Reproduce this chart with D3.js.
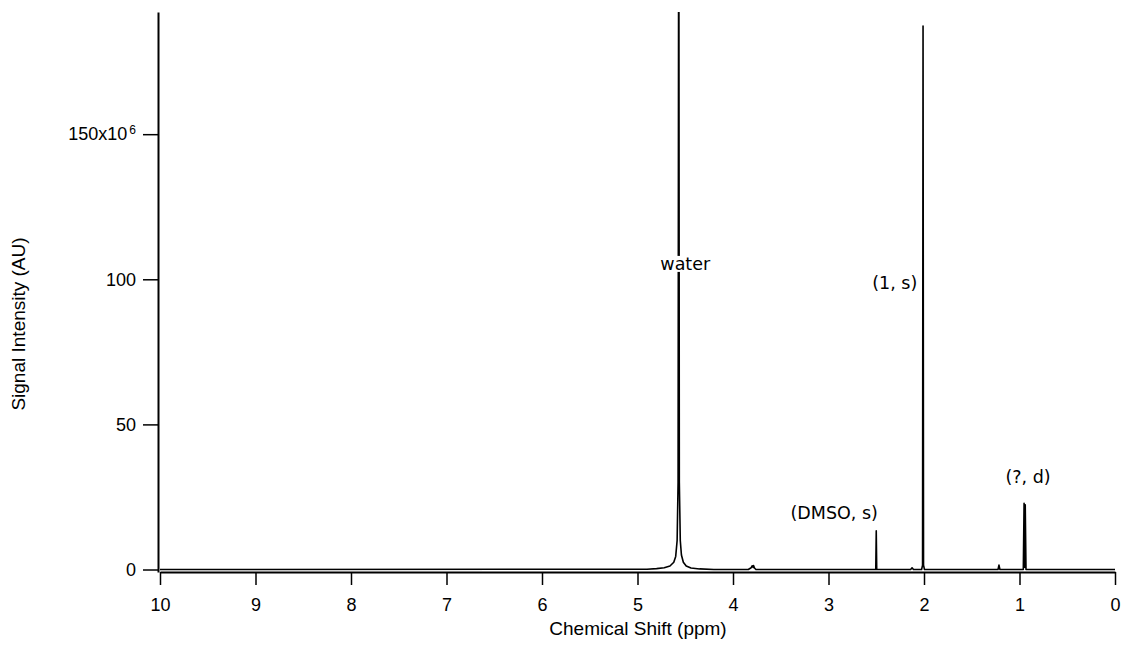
<!DOCTYPE html>
<html lang="en">

<head>
    <meta charset="UTF-8" />
    <title>1H NMR spectrum</title>
    <style>
        body {
            margin: 0;
            background: #fff;
        }

        svg {
            display: block;
        }

        .axis text {
            font-family: "Liberation Sans", Arial, sans-serif;
            font-size: 18px;
            fill: #000;
        }

        .axis path,
        .axis line {
            stroke: #000;
        }

        .title {
            font-family: "Liberation Sans", Arial, sans-serif;
            font-size: 19px;
            fill: #000;
        }

        .peak-label {
            font-family: "DejaVu Sans", Verdana, sans-serif;
            font-size: 17.5px;
            fill: #000;
        }
    </style>
</head>

<body>
    <svg></svg>
    <script src="https://d3js.org/d3.v7.min.js"></script>
    <script>
        const width = 1125;
        const height = 645;

        // spectrum: chemical shift (ppm) and signal (x10^6 AU)
        const shiftPpm = [
            10.0, 4.90, 4.80, 4.72, 4.66, 4.62, 4.60, 4.585, 4.575, 4.568, 4.562, 4.552,
            4.54, 4.52, 4.49, 4.44, 4.35, 4.20,
            3.84, 3.81, 3.80, 3.79, 3.785, 3.775, 3.76,
            2.505, 2.500, 2.495,
            2.14, 2.125, 2.11,
            2.025, 2.015, 2.010, 2.005, 1.995,
            1.225, 1.215, 1.205,
            0.96, 0.952, 0.946, 0.940, 0.932, 0.0
        ];
        const signal = [
            0, 0.1, 0.3, 0.6, 1.2, 2.5, 4.5, 10, 30, 260, 30, 10,
            5, 2.5, 1.2, 0.5, 0.2, 0,
            0, 0.6, 1.3, 0.7, 1.4, 0.5, 0,
            0, 13.3, 0,
            0, 0.6, 0,
            0, 1.5, 187.3, 1.5, 0,
            0, 1.5, 0,
            0, 22.8, 0.8, 22.3, 0, 0
        ];

        const xTicks = [10, 9, 8, 7, 6, 5, 4, 3, 2, 1, 0];
        const yTicks = [0, 50, 100, 150];

        // peak annotations
        const labelText = ["water", "(1, s)", "(DMSO, s)", "(?, d)"];
        const labelPpm = [4.50, 2.07, 2.94, 0.91];
        const labelSignal = [105.3, 98.7, 19.5, 31.9];
        const labelAnchor = ["middle", "end", "middle", "middle"];
        const labelBoxed = [true, false, false, false];

        const data = shiftPpm.map((p, i) => ({ p, v: signal[i] }));

        const svg = d3.select("svg")
            .attr("width", width)
            .attr("height", height);

        const x = d3.scaleLinear().domain([10, 0]).range([160, 1115]);
        const y = d3.scaleLinear().domain([-0.86, 192.1]).range([572, 12]);

        svg.append("clipPath")
            .attr("id", "plot-clip")
            .append("rect")
            .attr("x", 158)
            .attr("y", 12)
            .attr("width", 1115 - 158 + 2)
            .attr("height", 572 - 12);

        // spectrum trace
        svg.append("path")
            .datum(data)
            .attr("clip-path", "url(#plot-clip)")
            .attr("fill", "none")
            .attr("stroke", "#000")
            .attr("stroke-width", 1.6)
            .attr("stroke-linejoin", "round")
            .attr("d", d3.line().x(d => x(d.p)).y(d => y(d.v)));

        // axes
        const xAxis = svg.append("g")
            .attr("class", "axis")
            .attr("transform", "translate(0,572)")
            .call(d3.axisBottom(x)
                .tickValues(xTicks)
                .tickFormat(d3.format("d"))
                .tickSize(13)
                .tickSizeOuter(0)
                .tickPadding(13));
        xAxis.select(".domain").attr("stroke-width", 2);
        xAxis.selectAll(".tick line").attr("stroke-width", 1.5);

        const yAxis = svg.append("g")
            .attr("class", "axis")
            .attr("transform", "translate(158,0)")
            .call(d3.axisLeft(y)
                .tickValues(yTicks)
                .tickSize(15)
                .tickSizeOuter(0)
                .tickPadding(7)
                .tickFormat(d => d === 150 ? "" : d));
        yAxis.select(".domain").attr("stroke-width", 2);
        yAxis.selectAll(".tick line").attr("stroke-width", 1.5);

        // top tick carries the exponent
        const topTick = yAxis.selectAll(".tick").filter(d => d === 150).select("text");
        topTick.append("tspan").text("150x10");
        topTick.append("tspan")
            .attr("dx", "2")
            .attr("dy", "-0.5em")
            .attr("font-size", "12px")
            .text("6");

        // axis titles
        svg.append("text")
            .attr("class", "title")
            .attr("text-anchor", "middle")
            .attr("x", 638)
            .attr("y", 635)
            .text("Chemical Shift (ppm)");

        svg.append("text")
            .attr("class", "title")
            .attr("text-anchor", "middle")
            .attr("transform", "translate(25,324) rotate(-90)")
            .text("Signal Intensity (AU)");

        // peak labels
        labelText.forEach((t, i) => {
            const g = svg.append("g");
            const txt = g.append("text")
                .attr("class", "peak-label")
                .attr("text-anchor", labelAnchor[i])
                .attr("dominant-baseline", "central")
                .attr("x", x(labelPpm[i]))
                .attr("y", y(labelSignal[i]))
                .text(t);
            if (labelBoxed[i]) {
                const b = txt.node().getBBox();
                g.insert("rect", "text")
                    .attr("x", b.x - 2)
                    .attr("y", b.y + 2)
                    .attr("width", b.width + 4)
                    .attr("height", b.height - 4)
                    .attr("fill", "#fff");
            }
        });
    </script>
</body>

</html>
